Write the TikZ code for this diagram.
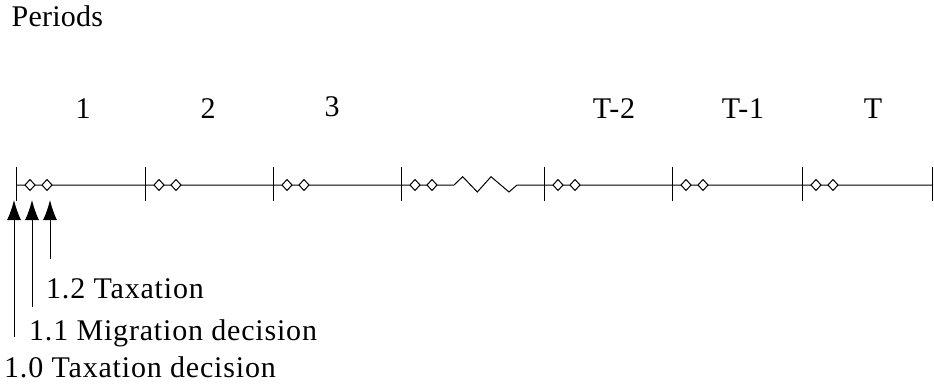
\documentclass[tikz,border=0pt]{standalone}
\usepackage{fontspec}
\setmainfont{Liberation Serif}
\newfontfamily\trackedfont[LetterSpace=2.7]{Liberation Serif}
\newfontfamily\lighttrack[LetterSpace=0.8]{Liberation Serif}
\usetikzlibrary{arrows.meta}
\begin{document}
\begin{tikzpicture}[x=1pt,y=-1pt,
  thinline/.style={line width=1pt, black},
  lbl/.style={inner sep=0pt, font=\trackedfont\fontsize{30}{36}\selectfont},
  dia/.style={thinline, fill=white},
  uparrow/.style={line width=1pt, -{Latex[length=20pt,width=14pt]}}]
\useasboundingbox (0,0) rectangle (934,388);
% title
\node[lbl, font=\lighttrack\fontsize{30}{36}\selectfont, anchor=base west] (periods) at (11.5,27) {Periods};
% period labels
\node[lbl, anchor=base] (p1) at (83,118) {1};
\node[lbl, anchor=base] (p2) at (208,118) {2};
\node[lbl, anchor=base] (p3) at (332,116) {3};
\node[lbl, anchor=base] (pT2) at (614,118) {T-2};
\node[lbl, anchor=base] (pT1) at (743,118) {T-1};
\node[lbl, anchor=base] (pT) at (873,118) {T};
% axis with zigzag break
\coordinate (axL) at (16,185);
\coordinate (zzA) at (454,185);
\coordinate (zzB) at (517,185);
\coordinate (axR) at (932,185);
\draw[thinline] (axL) -- (zzA) -- (462.7,176.7) -- (477.3,192) -- (491,176.7) -- (509,192) -- (zzB) -- (axR);
% ticks and diamonds
\foreach \x in {16,145,273,401,544,672,802,932}{
  \draw[thinline] (\x,167) -- (\x,201);
}
\foreach \x in {16,145,273,401,544,672,802}{
  \foreach \d in {14,31}{
    \draw[dia] (\x+\d-5,185) -- (\x+\d,179.5) -- (\x+\d+5,185) -- (\x+\d,190.5) -- cycle;
  }
}
% arrows
\coordinate (a0s) at (14,337); \coordinate (a0e) at (14,200);
\coordinate (a1s) at (32,307); \coordinate (a1e) at (32,200);
\coordinate (a2s) at (50,259); \coordinate (a2e) at (50,200);
\draw[uparrow] (a0s) -- (a0e);
\draw[uparrow] (a1s) -- (a1e);
\draw[uparrow] (a2s) -- (a2e);
% event labels
\node[lbl, anchor=base west] (e2) at (46,298) {1.2 Taxation};
\node[lbl, anchor=base west] (e1) at (29,340) {1.1 Migration decision};
\node[lbl, anchor=base west] (e0) at (4,377) {1.0 Taxation decision};
\end{tikzpicture}
\end{document}
